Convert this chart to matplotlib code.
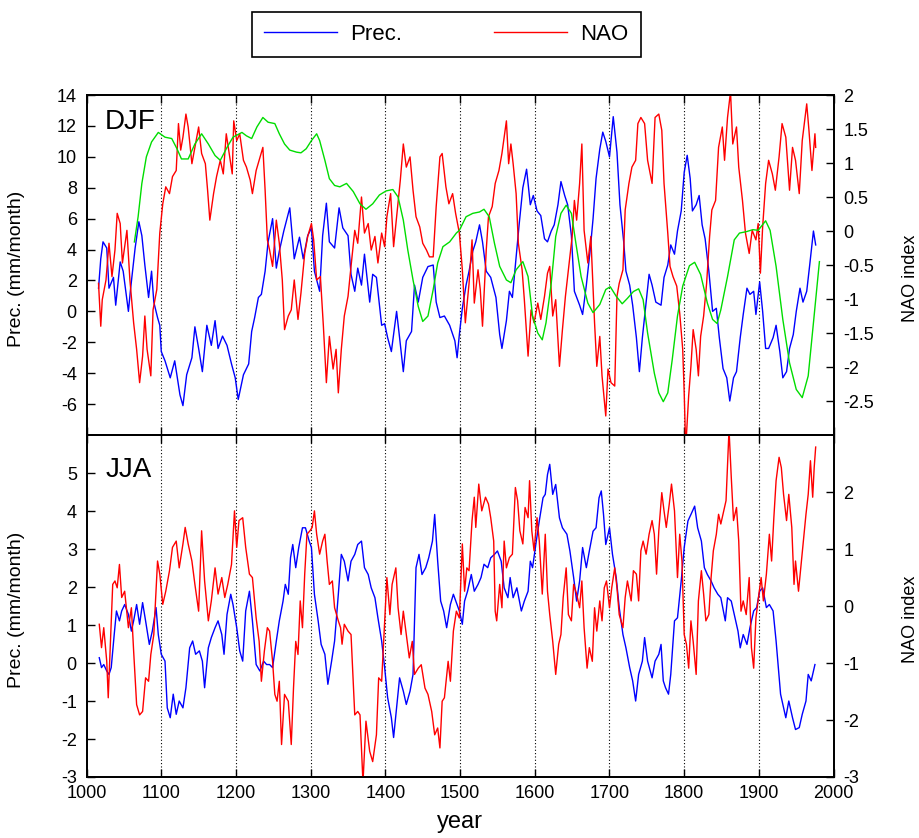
"""Winter and summer precipitation vs NAO index, 1000-2000."""
import numpy as np
import matplotlib
matplotlib.use("Agg")
import matplotlib.pyplot as plt
from matplotlib.ticker import FormatStrFormatter

plt.rcParams['font.family'] = ['Liberation Sans', 'DejaVu Sans']
plt.rcParams['axes.unicode_minus'] = False

# DJF precipitation anomaly (mm/month), (year, value)
djf_prec = [
    (1016, 1.5), (1019, 3.4), (1022, 4.5), (1027, 4.1), (1030, 1.5), (1036, 2.2), (1039, 0.4),
    (1045, 3.2), (1049, 2.6), (1056, 0.0), (1059, 1.5), (1065, 4.1), (1070, 5.8), (1074, 4.9),
    (1078, 3.0), (1083, 0.9), (1087, 2.6), (1090, 0.6), (1095, -0.4), (1098, -0.9), (1100, -2.6),
    (1105, -3.2), (1112, -4.3), (1118, -3.2), (1125, -5.4), (1129, -6.1), (1134, -4.1), (1141, -3.0),
    (1145, -1.0), (1150, -2.4), (1155, -3.9), (1161, -0.9), (1167, -2.2), (1172, -0.6), (1176, -2.4),
    (1182, -1.6), (1188, -2.2), (1194, -3.4), (1199, -4.3), (1203, -5.7), (1210, -4.1), (1217, -3.4),
    (1221, -1.3), (1225, -0.4), (1230, 0.9), (1234, 1.1), (1239, 2.6), (1243, 4.5),
    (1249, 6.0), (1254, 2.8), (1258, 3.9), (1264, 5.2), (1272, 6.7), (1278, 3.4), (1285, 4.8),
    (1290, 3.4), (1296, 4.9), (1301, 5.4), (1305, 2.6), (1312, 1.3), (1316, 4.9), (1321, 7.0),
    (1325, 4.5), (1332, 4.1), (1338, 6.7), (1343, 5.4), (1350, 4.9), (1354, 2.4), (1359, 1.3),
    (1363, 2.8), (1368, 1.7), (1372, 3.7), (1379, 0.6), (1383, 2.4), (1388, 2.2), (1395, -0.9),
    (1399, -0.8), (1403, -1.7), (1408, -2.6), (1415, 0.0), (1419, -1.7), (1424, -3.9), (1428, -1.9),
    (1435, -1.3), (1439, 1.7), (1444, 0.6), (1450, 2.2), (1457, 2.9), (1464, 3.0), (1468, 0.6),
    (1473, -0.4), (1479, -0.3), (1486, -0.9), (1493, -1.9), (1496, -3.0),
    (1499, -1.5), (1503, 0.2), (1508, 1.7), (1512, 2.6), (1517, 3.9), (1521, 4.5), (1526, 5.6),
    (1530, 4.5), (1535, 2.6), (1541, 2.2), (1548, 0.9), (1553, -1.5), (1556, -2.4), (1562, -0.6),
    (1566, 1.3), (1570, 0.9), (1574, 3.0), (1579, 5.6), (1584, 8.0), (1589, 9.2), (1594, 6.9),
    (1598, 7.5), (1603, 6.5), (1608, 6.2), (1613, 4.7), (1617, 4.5), (1622, 5.2), (1626, 5.6),
    (1631, 6.9), (1635, 8.4), (1640, 7.5), (1644, 6.9), (1649, 4.9), (1653, 1.3), (1660, 0.4),
    (1664, -0.2), (1669, 1.7), (1674, 3.9), (1678, 6.0), (1682, 8.6), (1687, 10.5), (1691, 11.6),
    (1695, 11.0), (1700, 10.0), (1705, 12.6), (1710, 10.3), (1714, 6.9), (1719, 4.5), (1722, 2.6),
    (1727, 1.7), (1731, 0.4), (1736, -1.7), (1740, -3.9), (1744, -1.7), (1749, 0.6),
    (1753, 2.4), (1757, 1.7), (1762, 0.6), (1769, 0.4), (1773, 2.2), (1778, 3.0), (1782, 4.3),
    (1787, 3.7), (1791, 5.2), (1796, 6.5), (1800, 9.0), (1804, 10.1), (1808, 8.6), (1811, 6.5),
    (1816, 6.9), (1820, 7.5), (1824, 5.6), (1828, 4.7), (1833, 2.6), (1838, 0.0), (1843, 0.2),
    (1847, -1.7), (1852, -3.7), (1857, -4.3), (1861, -5.8), (1866, -4.3), (1870, -3.9), (1875, -1.7),
    (1879, -0.2), (1884, 1.5), (1888, 1.1), (1893, 1.3), (1896, -0.2), (1901, 1.9), (1905, 0.0),
    (1909, -2.4), (1913, -2.4), (1919, -1.7), (1923, -0.9), (1928, -2.6), (1932, -4.3), (1937, -3.9),
    (1941, -2.4), (1946, -1.5), (1950, 0.0), (1955, 1.5), (1959, 0.6), (1964, 1.3), (1968, 3.0),
    (1973, 5.2), (1976, 4.3),
]

# DJF NAO index
djf_nao = [
    (1016, -0.77), (1019, -1.40), (1021, -1.01), (1026, -0.72), (1030, -0.18), (1034, -0.67),
    (1038, -0.28), (1041, 0.26), (1045, 0.11), (1048, -0.47), (1054, 0.01), (1058, -0.72),
    (1063, -1.35), (1067, -1.74), (1071, -2.23), (1075, -1.84), (1078, -1.25), (1081, -1.74),
    (1086, -2.13), (1089, -1.16), (1094, -0.86), (1098, -0.03), (1102, 0.40), (1106, 0.65),
    (1111, 0.55), (1115, 0.80), (1120, 0.89), (1123, 1.58), (1126, 1.19), (1129, 1.38),
    (1133, 1.72), (1136, 1.53), (1141, 0.99), (1145, 1.23), (1150, 1.53), (1154, 1.14),
    (1159, 0.99), (1162, 0.60), (1165, 0.16), (1170, 0.55), (1174, 0.80), (1179, 1.04),
    (1183, 0.84), (1187, 1.43), (1191, 1.14), (1195, 0.84), (1197, 1.62), (1201, 1.33),
    (1205, 1.43), (1210, 1.04), (1214, 0.94), (1219, 0.75), (1222, 0.55), (1227, 0.89),
    (1231, 1.04), (1236, 1.23), (1239, 0.60), (1242, -0.13),
    (1245, -0.28), (1249, -0.52), (1254, 0.16), (1258, -0.18), (1262, -0.72), (1265, -1.45),
    (1270, -1.25), (1274, -1.16), (1278, -0.72), (1283, -1.30), (1287, -0.91), (1292, -0.33),
    (1296, -0.08), (1301, 0.11), (1304, -0.13), (1308, -0.72), (1313, -0.67), (1317, -1.40),
    (1321, -2.23), (1325, -1.55), (1330, -2.03), (1334, -1.74), (1337, -2.38), (1341, -1.74),
    (1345, -1.25), (1350, -0.96), (1354, -0.52), (1359, 0.01), (1363, -0.18), (1368, 0.50),
    (1372, -0.03), (1377, 0.11), (1381, -0.28), (1386, -0.08), (1390, -0.47), (1395, -0.03),
    (1399, -0.23), (1402, 0.21), (1407, 0.55), (1411, -0.23), (1416, 0.31), (1420, 0.75),
    (1424, 1.28), (1428, 0.94), (1433, 1.09), (1437, 0.60), (1441, 0.21), (1446, 0.06),
    (1450, -0.18), (1455, -0.28), (1459, -0.38), (1464, -0.38), (1468, 0.36), (1473, 1.09),
    (1476, 1.14), (1481, 0.65), (1485, 0.40), (1490, 0.55), (1494, 0.26),
    (1499, -0.03), (1503, -0.57), (1507, -1.35), (1512, -0.77), (1516, -0.13), (1519, -1.06),
    (1524, -0.57), (1527, -0.86), (1530, -1.40), (1535, -0.28), (1538, 0.21), (1543, 0.36),
    (1547, 0.70), (1552, 0.89), (1556, 1.14), (1559, 1.38), (1562, 1.62), (1565, 0.99),
    (1568, 1.28), (1571, 0.99), (1575, 0.55), (1578, -0.18), (1583, -0.57), (1586, -1.01),
    (1591, -1.84), (1595, -1.16), (1599, -1.35), (1604, -1.06), (1608, -1.30), (1613, -0.96),
    (1617, -0.62), (1620, -0.52), (1624, -1.25), (1628, -1.01), (1633, -1.99), (1637, -1.45),
    (1641, -0.96), (1645, -0.57), (1650, -0.08), (1653, 0.45), (1656, 0.16), (1660, 0.70),
    (1663, 1.28), (1666, 0.01), (1671, -0.47), (1675, -0.08), (1680, -1.35), (1683, -1.99),
    (1687, -1.55), (1690, -2.13), (1695, -2.72), (1698, -2.03), (1702, -2.23), (1707, -2.28),
    (1710, -0.96), (1713, -0.77), (1718, -0.57), (1721, 0.31), (1726, 0.70), (1730, 0.94),
    (1735, 1.04), (1738, 1.58), (1742, 1.67), (1747, 1.58), (1751, 1.04),
    (1757, 0.70), (1761, 1.67), (1766, 1.72), (1770, 1.48), (1773, 0.70), (1778, -0.03),
    (1781, -0.52), (1785, -0.67), (1790, -0.81), (1794, -1.21), (1798, -1.74), (1800, -2.38),
    (1802, -3.20), (1806, -2.42), (1809, -1.99), (1812, -1.45), (1816, -1.74), (1819, -2.13),
    (1822, -1.55), (1826, -1.25), (1830, -0.77), (1834, -0.08), (1837, 0.31), (1842, 0.45),
    (1846, 1.23), (1851, 1.53), (1854, 1.04), (1858, 1.67), (1862, 2.05), (1865, 1.28),
    (1870, 1.53), (1873, 0.94), (1878, 0.45), (1882, -0.03), (1887, -0.33), (1891, 0.01),
    (1896, -0.13), (1899, 0.11), (1902, -0.62), (1905, 0.06), (1909, 0.70), (1913, 1.04),
    (1918, 0.84), (1922, 0.60), (1927, 1.09), (1931, 1.58), (1936, 1.38), (1941, 0.60),
    (1945, 1.23), (1949, 1.04), (1954, 0.55), (1958, 1.33), (1964, 1.87), (1967, 1.48),
    (1971, 0.89), (1975, 1.43), (1976, 1.23),
]

# smooth green curve in the DJF panel (NAO units)
djf_smooth = [
    (1064, -0.16), (1069, 0.21), (1074, 0.70), (1080, 1.09), (1087, 1.31), (1096, 1.45),
    (1105, 1.38), (1114, 1.36), (1121, 1.21), (1127, 1.06), (1136, 1.06), (1145, 1.28),
    (1154, 1.43), (1163, 1.28), (1172, 1.11), (1179, 1.04), (1188, 1.23), (1196, 1.38),
    (1208, 1.45), (1214, 1.40), (1221, 1.36), (1228, 1.53), (1236, 1.67), (1243, 1.60),
    (1252, 1.58), (1258, 1.43), (1265, 1.28), (1272, 1.19), (1281, 1.16), (1287, 1.15),
    (1294, 1.21), (1301, 1.33), (1308, 1.43), (1312, 1.33), (1319, 1.04), (1325, 0.77),
    (1332, 0.67), (1339, 0.65), (1348, 0.70), (1357, 0.58), (1366, 0.40), (1374, 0.32),
    (1383, 0.40), (1392, 0.53), (1401, 0.59), (1410, 0.61), (1417, 0.50), (1424, 0.16),
    (1430, -0.28), (1437, -0.72), (1444, -1.11), (1450, -1.33), (1457, -1.25), (1464, -0.86),
    (1470, -0.47), (1477, -0.23), (1486, -0.16), (1495, -0.03),
    (1499, 0.01), (1508, 0.21), (1517, 0.26), (1526, 0.28), (1532, 0.32), (1539, 0.21),
    (1546, -0.18), (1553, -0.52), (1562, -0.72), (1568, -0.76), (1575, -0.57), (1584, -0.45),
    (1591, -0.67), (1597, -1.25), (1604, -1.50), (1610, -1.60), (1615, -1.35), (1622, -0.77),
    (1628, -0.08), (1635, 0.26), (1642, 0.38), (1649, 0.26), (1655, -0.18), (1662, -0.67),
    (1671, -1.06), (1678, -1.20), (1687, -1.08), (1695, -0.86), (1701, -0.82), (1709, -0.96),
    (1717, -1.07), (1724, -0.99), (1732, -0.89), (1739, -0.85), (1745, -1.01), (1751, -1.50),
    (1760, -2.09), (1766, -2.38), (1772, -2.51), (1778, -2.38), (1784, -1.89), (1791, -1.25),
    (1798, -0.81), (1807, -0.51), (1814, -0.46), (1822, -0.64), (1831, -1.06), (1838, -1.30),
    (1844, -1.36), (1849, -1.16), (1858, -0.67), (1867, -0.13), (1874, -0.03), (1883, -0.01),
    (1892, 0.02), (1899, 0.01), (1909, 0.15), (1915, 0.01), (1923, -0.52), (1932, -1.30),
    (1941, -1.94), (1950, -2.33), (1958, -2.45), (1966, -2.13), (1973, -1.35), (1981, -0.45),
]

# JJA precipitation anomaly (mm/month)
jja_prec = [
    (1017, 0.14), (1020, -0.12), (1023, -0.04), (1027, -0.21), (1030, -0.30), (1033, -0.12),
    (1037, 0.75), (1040, 1.37), (1044, 1.11), (1047, 1.37), (1051, 1.54), (1056, 1.28),
    (1060, 0.84), (1063, 1.11), (1067, 1.54), (1071, 1.02), (1075, 1.59), (1079, 1.11),
    (1084, 0.49), (1088, 0.84), (1093, 1.46), (1096, 0.75), (1100, 0.23), (1105, 0.05),
    (1108, -1.18), (1112, -1.44), (1116, -0.82), (1120, -1.35), (1124, -1.00), (1129, -1.18),
    (1133, -0.65), (1138, 0.40), (1142, 0.58), (1146, 0.23), (1151, 0.32), (1155, 0.05),
    (1158, -0.65), (1163, 0.40), (1167, 0.67), (1172, 0.93), (1176, 1.11), (1181, 0.75),
    (1184, 0.23), (1188, 1.28), (1193, 1.81), (1196, 1.54), (1201, 0.93), (1205, 0.32),
    (1209, 0.05), (1213, 1.37), (1218, 1.89), (1222, 1.11), (1227, -0.04), (1232, -0.21),
    (1237, 0.05), (1241, -0.04),
    (1245, -0.04), (1249, -0.12), (1254, 0.58), (1258, 1.11), (1263, 1.63), (1266, 2.07),
    (1270, 1.81), (1273, 2.77), (1276, 3.12), (1280, 2.51), (1284, 3.04), (1289, 3.56),
    (1293, 3.56), (1298, 3.21), (1301, 3.04), (1305, 1.81), (1310, 1.11), (1314, 0.49),
    (1319, 0.23), (1323, -0.56), (1328, 0.05), (1332, 0.58), (1337, 1.81), (1341, 2.86),
    (1345, 2.68), (1350, 2.16), (1354, 2.68), (1359, 2.86), (1363, 3.12), (1368, 3.21),
    (1372, 2.51), (1377, 2.33), (1381, 1.98), (1386, 1.72), (1390, 1.19), (1395, 0.58),
    (1399, -0.12), (1403, -0.91), (1408, -1.44), (1411, -1.96), (1415, -1.18), (1419, -0.39),
    (1424, -0.74), (1428, -1.09), (1433, -0.74), (1437, -0.30), (1441, 2.51), (1445, 2.86),
    (1449, 2.33), (1454, 2.51), (1458, 2.77), (1463, 3.21), (1466, 3.91), (1470, 2.68),
    (1474, 1.63), (1478, 1.37), (1482, 0.93), (1487, 1.54), (1491, 1.81), (1496, 1.54),
    (1499, 1.37), (1503, 1.02), (1506, 1.63), (1510, 1.89), (1515, 2.33), (1519, 1.89),
    (1524, 2.07), (1528, 2.25), (1532, 2.60), (1537, 2.51), (1541, 2.77), (1546, 2.86),
    (1550, 2.95), (1555, 2.68), (1559, 1.98), (1564, 1.72), (1567, 2.25), (1571, 1.72),
    (1576, 1.98), (1582, 1.37), (1586, 1.63), (1591, 1.89), (1594, 2.68), (1597, 2.51),
    (1602, 3.21), (1606, 3.74), (1611, 4.35), (1614, 4.44), (1617, 4.96), (1620, 5.23),
    (1624, 4.44), (1628, 4.70), (1633, 3.82), (1637, 3.56), (1643, 3.39), (1647, 2.95),
    (1652, 2.25), (1656, 1.63), (1660, 2.16), (1664, 3.04), (1669, 2.51), (1673, 2.95),
    (1678, 3.47), (1682, 3.56), (1686, 4.35), (1689, 4.53), (1692, 3.91), (1695, 3.12),
    (1700, 3.56), (1704, 2.86), (1709, 2.25), (1713, 1.46), (1718, 0.75), (1722, 0.40),
    (1727, -0.12), (1731, -0.47), (1735, -1.00), (1739, -0.30), (1744, 0.05), (1747, 0.67),
    (1751, 0.05),
    (1757, -0.39), (1761, 0.05), (1766, 0.23), (1769, 0.49), (1772, -0.47), (1775, -0.65),
    (1779, -0.82), (1782, -0.30), (1787, 1.11), (1791, 1.19), (1796, 2.16), (1800, 3.04),
    (1805, 3.74), (1809, 3.91), (1814, 4.13), (1818, 3.56), (1823, 3.21), (1827, 2.51),
    (1831, 2.33), (1836, 2.16), (1840, 1.98), (1845, 1.81), (1849, 1.72), (1855, 1.11),
    (1858, 1.72), (1863, 1.63), (1867, 1.28), (1872, 0.84), (1875, 0.40), (1879, 0.75),
    (1884, 0.49), (1888, 0.93), (1893, 1.37), (1897, 1.46), (1901, 1.89), (1905, 1.98),
    (1910, 1.46), (1914, 1.54), (1919, 1.37), (1923, 0.58), (1926, -0.12), (1929, -0.82),
    (1932, -1.09), (1936, -1.44), (1940, -1.00), (1945, -1.44), (1949, -1.75), (1954, -1.70),
    (1958, -1.35), (1963, -1.00), (1966, -0.30), (1970, -0.47), (1975, -0.04),
]

# JJA NAO index
jja_nao = [
    (1017, -0.32), (1020, -0.73), (1023, -0.38), (1027, -0.97), (1029, -1.61), (1032, -0.62),
    (1035, 0.38), (1038, 0.44), (1041, 0.32), (1044, 0.73), (1047, 0.15), (1051, 0.26),
    (1056, -0.38), (1060, -0.03), (1063, -0.79), (1067, -1.73), (1071, -1.91), (1075, -1.85),
    (1079, -1.26), (1083, -1.32), (1086, -0.85), (1090, -0.50), (1095, 0.79), (1098, 0.56),
    (1102, 0.03), (1106, 0.26), (1111, 0.62), (1115, 1.03), (1120, 1.14), (1124, 0.67),
    (1129, 1.09), (1132, 1.38), (1136, 1.09), (1141, 0.79), (1145, 0.38), (1150, -0.09),
    (1154, 1.32), (1158, 0.44), (1163, -0.26), (1167, 0.09), (1172, 0.67), (1176, 0.21),
    (1181, 0.50), (1185, 0.15), (1189, 0.38), (1194, 0.73), (1198, 1.67), (1201, 1.03),
    (1204, 1.50), (1209, 1.55), (1213, 1.03), (1218, 0.56), (1222, 0.50), (1227, -0.21),
    (1231, -0.62), (1234, -1.32), (1238, -0.79), (1242, -0.38),
    (1245, -0.44), (1249, -0.97), (1252, -1.55), (1255, -1.67), (1258, -1.32), (1261, -2.43),
    (1265, -1.55), (1270, -1.67), (1274, -2.43), (1277, -1.44), (1280, -0.62), (1283, -0.85),
    (1286, 0.09), (1289, -0.38), (1292, 0.56), (1295, 1.26), (1299, 1.32), (1302, 1.38),
    (1305, 1.67), (1308, 1.26), (1312, 0.91), (1316, 1.14), (1319, 1.26), (1322, 0.79),
    (1325, 0.38), (1329, 0.44), (1332, -0.03), (1337, -0.26), (1340, -0.38), (1342, -0.67),
    (1345, -0.32), (1350, -0.44), (1354, -0.50), (1359, -1.91), (1363, -1.85), (1366, -1.91),
    (1370, -3.10), (1374, -2.02), (1379, -2.55), (1383, -2.73), (1388, -2.26), (1391, -1.26),
    (1395, -1.32), (1399, -0.26), (1402, 0.50), (1406, -0.15), (1409, 0.38), (1414, 0.67),
    (1417, -0.03), (1421, -0.50), (1424, -0.09), (1428, -0.50), (1432, -0.91), (1436, -0.62),
    (1439, -1.20), (1444, -1.09), (1448, -1.03), (1453, -1.44), (1457, -1.55), (1462, -1.85),
    (1466, -2.26), (1470, -2.14), (1473, -2.49), (1476, -1.67), (1479, -1.61), (1484, -0.97),
    (1487, -1.32), (1491, -0.44), (1495, -0.09),
    (1499, -0.21), (1503, 1.09), (1506, 0.26), (1509, 0.67), (1512, 0.62), (1516, 1.50),
    (1519, 1.91), (1521, 1.38), (1525, 2.14), (1529, 1.67), (1534, 1.91), (1538, 1.79),
    (1541, 1.55), (1545, 1.14), (1547, -0.09), (1549, -0.26), (1553, 0.38), (1556, -0.03),
    (1559, 1.14), (1562, 0.67), (1566, 0.85), (1570, 0.91), (1574, 2.08), (1577, 1.85),
    (1580, 1.32), (1584, 1.09), (1587, 1.73), (1591, 1.55), (1593, 2.20), (1596, 1.32),
    (1599, 0.97), (1603, 1.55), (1606, 1.14), (1610, 0.21), (1614, 1.26), (1617, 0.26),
    (1620, -0.15), (1624, -0.62), (1628, -1.20), (1632, -0.67), (1635, -0.50), (1638, 0.15),
    (1642, 0.67), (1645, -0.15), (1649, -0.26), (1652, 0.38), (1656, 0.21), (1660, -0.03),
    (1663, 0.44), (1666, -0.38), (1670, -1.09), (1673, -0.73), (1677, -0.97), (1680, -0.03),
    (1683, -0.44), (1687, 0.09), (1690, -0.26), (1693, 0.32), (1696, 0.44), (1700, -0.03),
    (1703, 0.32), (1707, 0.67), (1710, 0.32), (1713, -0.15), (1718, -0.38), (1721, 0.15),
    (1724, 0.44), (1729, 0.09), (1732, 0.62), (1736, 0.56), (1739, 0.09), (1742, 0.97),
    (1745, 1.14), (1749, 0.91),
    (1753, 1.26), (1757, 1.50), (1760, 1.26), (1763, 0.56), (1766, 1.32), (1770, 1.99),
    (1773, 1.67), (1776, 1.38), (1780, 1.79), (1783, 2.14), (1787, 1.67), (1791, 0.50),
    (1794, 1.26), (1797, 0.79), (1800, -0.50), (1803, -0.67), (1806, -1.09), (1809, -0.26),
    (1812, -0.62), (1816, -1.20), (1819, 0.09), (1823, 0.62), (1826, 0.21), (1829, -0.26),
    (1833, -0.15), (1836, 0.50), (1839, 0.97), (1843, 1.26), (1846, 1.61), (1849, 1.44),
    (1853, 1.67), (1856, 1.85), (1860, 3.10), (1863, 2.26), (1866, 1.50), (1870, 1.73),
    (1873, 1.14), (1876, -0.09), (1879, 0.09), (1883, -0.15), (1887, 0.50), (1890, -0.73),
    (1893, -1.09), (1896, -0.21), (1900, 0.21), (1903, 0.50), (1906, 0.09), (1910, 0.56),
    (1914, 1.26), (1917, 0.79), (1920, 1.55), (1923, 2.20), (1927, 2.61), (1930, 2.43),
    (1933, 1.96), (1937, 1.50), (1940, 1.96), (1944, 1.38), (1947, 0.38), (1949, 0.79),
    (1953, 0.26), (1956, 0.67), (1959, 1.09), (1963, 1.61), (1966, 1.96), (1969, 2.55),
    (1972, 1.91), (1974, 2.43), (1976, 2.79),
]

centuries = list(range(1000, 2001, 100))
BLUE, RED, GREEN = "#0000ff", "#ff0000", "#00dd00"
TICK_FS = 13


def xy(pairs):
    a = np.array(pairs, dtype=float)
    return a[:, 0], a[:, 1]


def style_panel(ax, axr, ylim, yticks, rlim, rticks, name, name_y):
    ax.set_xlim(1000, 2000)
    ax.set_xticks(centuries)
    ax.set_ylim(*ylim)
    ax.set_yticks(yticks)
    ax.yaxis.set_major_formatter(FormatStrFormatter('%g'))
    axr.set_ylim(*rlim)
    axr.set_yticks(rticks)
    axr.yaxis.set_major_formatter(FormatStrFormatter('%g'))
    for yr in centuries[1:-1]:
        ax.axvline(yr, color='black', lw=0.8, ls=(0, (1, 2)), zorder=0)
    ax.tick_params(axis='x', direction='in', top=True, length=6, width=1,
                   labelsize=TICK_FS, pad=6)
    ax.tick_params(axis='y', direction='in', length=6, width=1, labelsize=TICK_FS, pad=7)
    axr.tick_params(axis='y', direction='in', length=6, width=1, labelsize=TICK_FS, pad=7)
    for a in (ax, axr):
        for s in a.spines.values():
            s.set_linewidth(1.3)
    ax.set_ylabel('Prec. (mm/month)', fontsize=14)
    ax.yaxis.set_label_coords(-0.082, 0.49)
    axr.set_ylabel('NAO index', fontsize=13, rotation=90)
    axr.yaxis.set_label_coords(1.092, 0.46)
    ax.text(0.025, name_y, name, transform=ax.transAxes, fontsize=20,
            ha='left', va='top')


fig = plt.figure(figsize=(9.2, 8.38), dpi=100)
ax1 = fig.add_axes([0.0941, 0.4809, 0.812, 0.4057])
ax2 = fig.add_axes([0.0941, 0.0728, 0.812, 0.408])
ax1r = ax1.twinx()
ax2r = ax2.twinx()

# DJF
x, y = xy(djf_prec)
lp, = ax1.plot(x, y, color=BLUE, lw=1.0)
x, y = xy(djf_nao)
ln, = ax1r.plot(x, y, color=RED, lw=1.0)
x, y = xy(djf_smooth)
ax1r.plot(x, y, color=GREEN, lw=1.0)
style_panel(ax1, ax1r, (-8, 14), range(-6, 15, 2), (-3, 2),
            np.arange(-2.5, 2.01, 0.5), 'DJF', 0.96)
ax1.tick_params(labelbottom=False)

# JJA
x, y = xy(jja_prec)
ax2.plot(x, y, color=BLUE, lw=1.0)
x, y = xy(jja_nao)
ax2r.plot(x, y, color=RED, lw=1.0)
style_panel(ax2, ax2r, (-3, 6), range(-3, 6), (-3, 3), range(-3, 3), 'JJA', 0.935)
ax2.set_xlabel('year', fontsize=17, labelpad=6)

fig.legend([lp, ln], ['Prec.', 'NAO'], loc='center', bbox_to_anchor=(0.485, 0.959),
           ncol=2, fontsize=16, frameon=True, fancybox=False, edgecolor='black',
           framealpha=1, borderpad=0.55, handlelength=3.3, handletextpad=0.6,
           columnspacing=4.1)
fig.legends[0].get_frame().set_linewidth(1.2)

fig.savefig('out.png', dpi=100)
